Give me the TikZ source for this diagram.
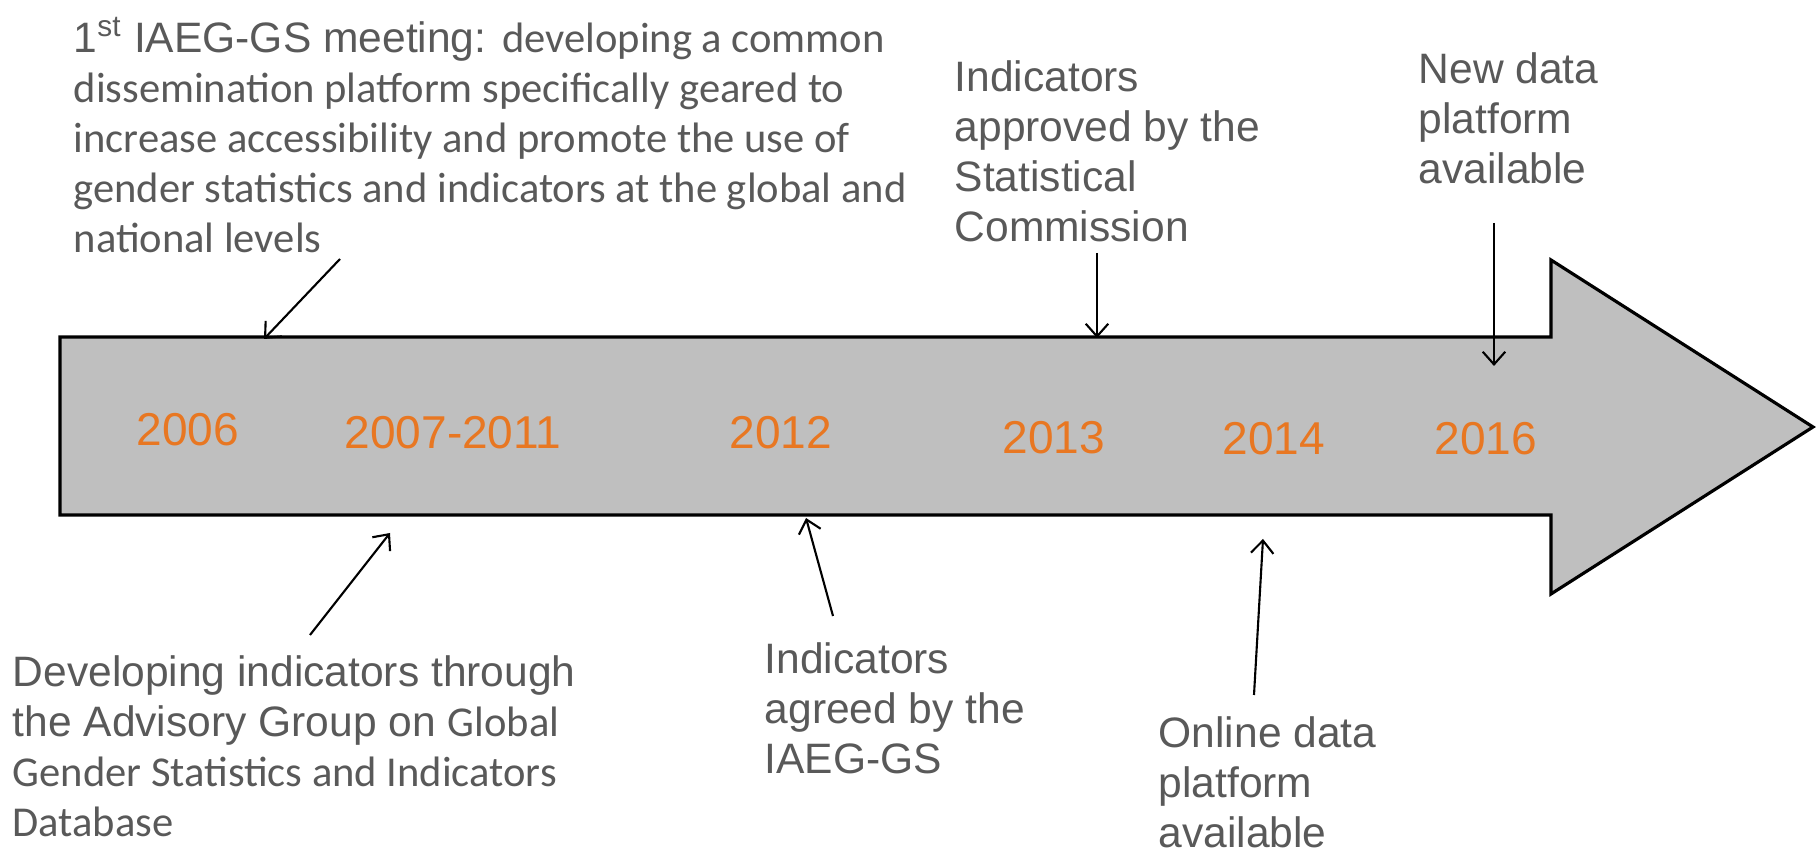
\documentclass[tikz,border=0pt]{standalone}
\usepackage{fontspec}
\setmainfont{Liberation Sans}
\newfontfamily\calib{Carlito}
\usepackage{xcolor}
\usetikzlibrary{positioning, arrows, arrows.meta}
\definecolor{txtgray}{HTML}{595959}
\definecolor{yrorange}{HTML}{E87722}
\definecolor{bargray}{HTML}{BFBFBF}

\begin{document}
\begin{tikzpicture}[x=0.01cm, y=0.01cm,
	lbl/.style={anchor=north west, inner sep=0pt, align=left, text=txtgray, font=\fontsize{12.1}{14.2}\selectfont},
	yr/.style={text=yrorange, font=\fontsize{13.1}{15}\selectfont},
	ptr/.style={-{Straight Barb[length=3.6pt, width=6.4pt]}, line width=0.6pt}]
			\useasboundingbox (0,0) rectangle (1820,852);
			% timeline arrow
			\draw[fill=bargray, line width=0.9pt] (60,515) -- (1551,515) -- (1551,592) -- (1813,425) -- (1551,258) -- (1551,337) -- (60,337) -- cycle;
			\node[yr] (y06) at (188,422) {2006};
			\node[yr] (y07) at (453,419) {2007-2011};
			\node[yr] (y12) at (781,419) {2012};
			\node[yr] (y13) at (1054,414) {2013};
			\node[yr] (y14) at (1274,413) {2014};
			\node[yr] (y16) at (1486,413) {2016};
			% events
			\node[lbl] (meet) at (73,835) {1\textsuperscript{st} IAEG-GS meeting: {\calib developing a common}\\ {\calib dissemination platform specifically geared to}\\ {\calib increase accessibility and promote the use of}\\ {\calib gender statistics and indicators at the global and}\\ {\calib national levels}};
			\node[lbl] (advis) at (12,197) {Developing indicators through\\ the Advisory Group on {\calib Global}\\ {\calib Gender Statistics and Indicators}\\ {\calib Database}};
			\node[lbl] (agreed) at (764,210) {Indicators\\ agreed by the\\ IAEG-GS};
			\node[lbl] (approv) at (954,792) {Indicators\\ approved by the\\ Statistical\\ Commission};
			\node[lbl] (online) at (1158,136) {Online data\\ platform\\ available};
			\node[lbl] (newdat) at (1418,800) {New data\\ platform\\ available};
			\coordinate (s1) at (340,593); \coordinate (e1) at (264,513);
			\coordinate (s2) at (310,217); \coordinate (e2) at (390,319);
			\coordinate (s3) at (833,236); \coordinate (e3) at (806,334);
			\coordinate (s4) at (1097,599); \coordinate (e4) at (1097,514);
			\coordinate (s5) at (1494,629); \coordinate (e5) at (1494,486);
			\coordinate (s6) at (1254,157); \coordinate (e6) at (1263,313);
			\draw[ptr] (s1) -- (e1);
			\draw[ptr] (s2) -- (e2);
			\draw[ptr] (s3) -- (e3);
			\draw[ptr] (s4) -- (e4);
			\draw[ptr] (s5) -- (e5);
			\draw[ptr] (s6) -- (e6);
\end{tikzpicture}
\end{document}
